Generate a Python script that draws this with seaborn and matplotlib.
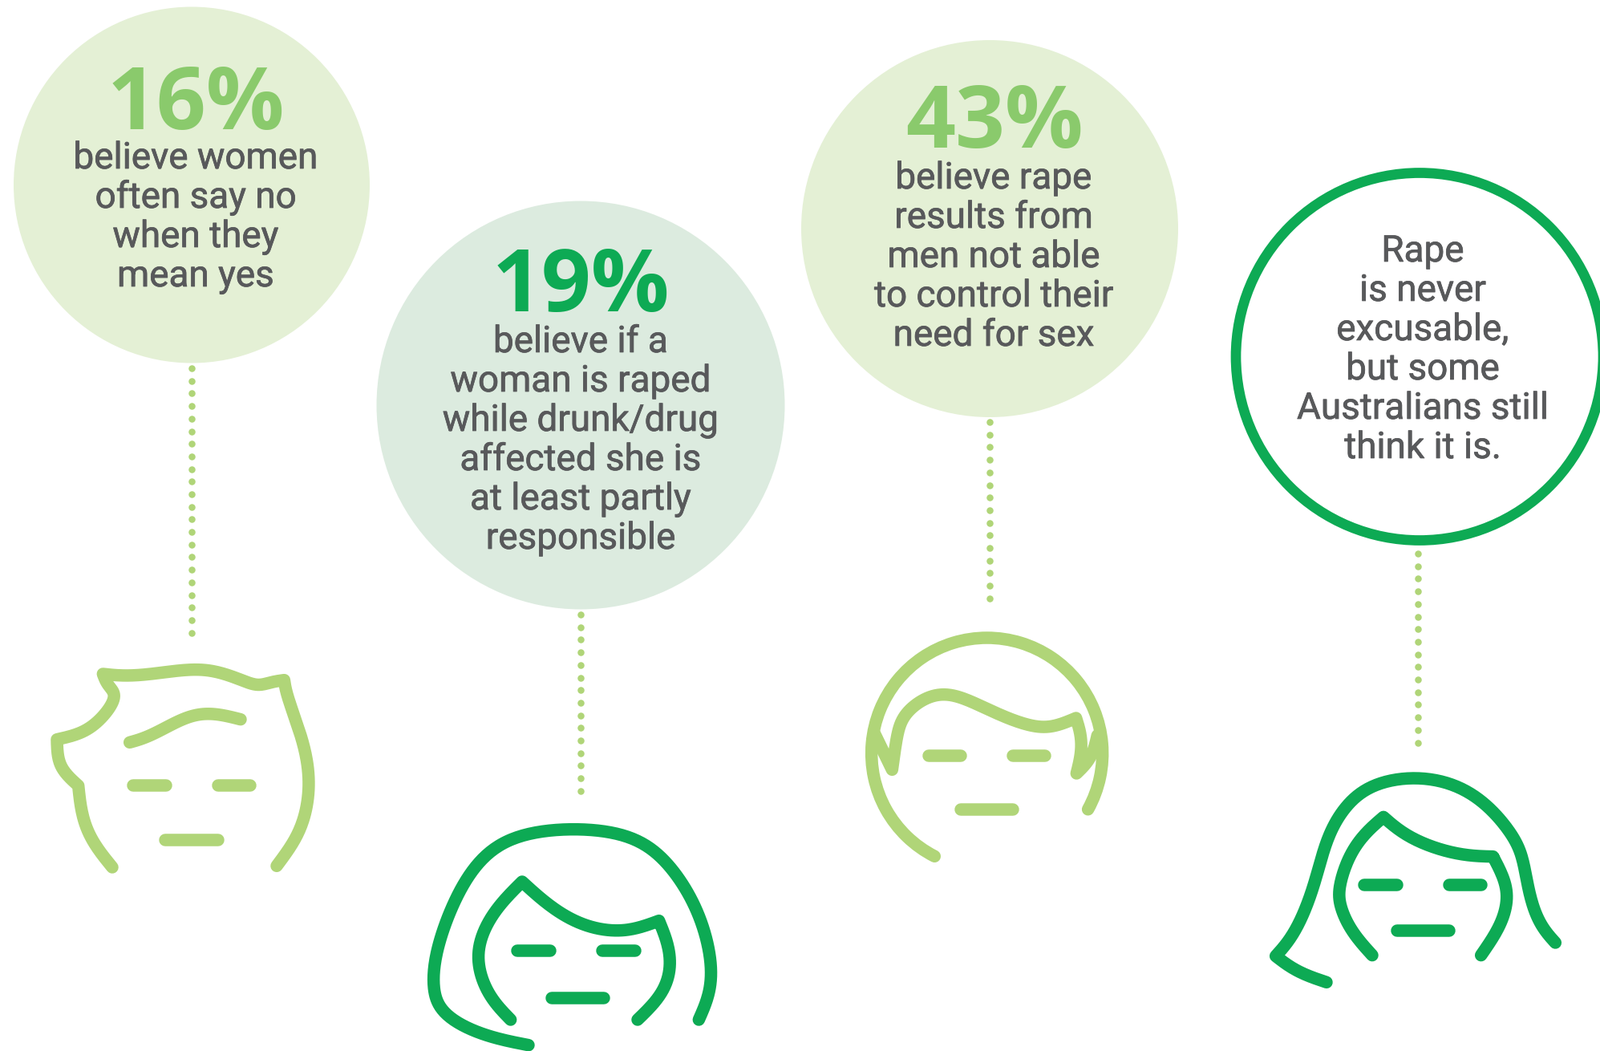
import numpy as np
import matplotlib
matplotlib.use("Agg")
import matplotlib.pyplot as plt
import matplotlib.patheffects as pe
from matplotlib.patches import Circle, Arc
import seaborn as sns

# ---------- content ----------
percents = [16, 19, 43]
percent_labels = [f"{p}%" for p in percents]
statement_1 = ["believe women", "often say no", "when they", "mean yes"]
statement_2 = ["believe if a", "woman is raped", "while drunk/drug", "affected she is", "at least partly", "responsible"]
statement_3 = ["believe rape", "results from", "men not able", "to control their", "need for sex"]
statement_4 = ["Rape", "is never", "excusable,", "but some", "Australians still", "think it is."]

# ---------- style ----------
LIGHT = "#b0d578"
DARK = "#0daa54"
NUM_LIGHT = "#8aca6c"
BODY = "#58595b"
PALE1 = "#e4f0d5"
PALE2 = "#dcebdf"
PX = 72 / 100  # one pixel in points
LW = 15.5 * PX
BODY_FONT = "Roboto"
BIG_FONT = "Open Sans"
BODY_SIZE = 33
BIG_SIZE = 78
LEAD = 49

sns.set_theme(style="white")
fig = plt.figure(figsize=(19.95, 13.10), dpi=100, facecolor="white")
ax = fig.add_axes([0, 0, 1, 1])
ax.set_xlim(0, 1995)
ax.set_ylim(1310, 0)
ax.set_aspect("equal")
ax.axis("off")


def catmull(pts, n=16):
    p = np.array(pts, float)
    if len(p) == 2:
        return p
    q = np.vstack([2 * p[0] - p[1], p, 2 * p[-1] - p[-2]])
    out = []
    for i in range(1, len(q) - 2):
        for t in np.linspace(0, 1, n, endpoint=False):
            out.append(0.5 * ((2 * q[i]) + (q[i + 1] - q[i - 1]) * t
                              + (2 * q[i - 1] - 5 * q[i] + 4 * q[i + 1] - q[i + 2]) * t ** 2
                              + (-q[i - 1] + 3 * q[i] - 3 * q[i + 1] + q[i + 2]) * t ** 3))
    out.append(p[-1])
    out = np.array(out)
    # ease the hand-read wobble while the end points stay put
    k = 17
    for _ in range(3):
        pad = k // 2
        a = 2 * out[0] - out[1:pad + 1][::-1]
        b = 2 * out[-1] - out[-pad - 1:-1][::-1]
        full = np.vstack([a, out, b])
        out = np.column_stack([np.convolve(full[:, c], np.ones(k) / k, mode="valid") for c in (0, 1)])
    return out


def stroke(sections, origin, color):
    """sections are smooth runs joined at sharp corners, measured in 1/3 px from origin."""
    run = np.vstack([catmull(s) for s in sections]) / 3 + np.array(origin)
    sns.lineplot(x=run[:, 0], y=run[:, 1], sort=False, estimator=None, ax=ax, color=color,
                 linewidth=LW, solid_capstyle="round", solid_joinstyle="round", legend=False, zorder=3)


def features(origin, color, eye_y, eye_l, eye_r, mouth_y, mouth):
    for seg in ([(eye_l[0], eye_y), (eye_l[1], eye_y)], [(eye_r[0], eye_y), (eye_r[1], eye_y)],
                [(mouth[0], mouth_y), (mouth[1], mouth_y)]):
        stroke([seg], origin, color)


def dots(x, y0, y1):
    ys = np.arange(y0, y1 + 0.1, 15.7)
    sns.scatterplot(x=np.full(len(ys), x), y=ys, ax=ax, color=LIGHT, s=(8.5 * PX) ** 2,
                    linewidth=0, legend=False, zorder=2)


def block(cx, first_base, lines, big=None, big_base=None, big_color=None, big_cx=None):
    if big:
        ax.text(big_cx if big_cx else cx, big_base, big, ha="center", va="baseline", color=big_color,
                fontsize=BIG_SIZE, fontweight="bold", family=BIG_FONT, zorder=4)
    for i, line in enumerate(lines):
        ax.text(cx, first_base + i * LEAD, line, ha="center", va="baseline", color=BODY,
                fontsize=BODY_SIZE, family=BODY_FONT, zorder=4,
                path_effects=[pe.withStroke(linewidth=0.5, foreground=BODY)])


# ---------- circles ----------
ax.add_patch(Circle((239, 230.5), 222, fc=PALE1, ec="none"))
ax.add_patch(Circle((724, 505), 254.5, fc=PALE2, ec="none"))
ax.add_patch(Circle((1234, 285), 235, fc=PALE1, ec="none"))
ax.add_patch(Circle((1770, 444.5), 229, fc="white", ec=DARK, lw=12.7 * PX))

# ---------- text ----------
block(244, 210, statement_1, percent_labels[0], 161, NUM_LIGHT)
block(724, 439, statement_2, percent_labels[1], 388, DARK)
block(1239, 235, statement_3, percent_labels[2], 184, NUM_LIGHT, big_cx=1240)
block(1774, 326, statement_4)

# ---------- connectors ----------
dots(239, 459, 794)
dots(724, 766, 998)
dots(1234, 526, 757)
dots(1768, 690, 929)

# ---------- face 1 ----------
o = (40, 780)
stroke([[(300, 903), (225, 810), (185, 710), (173, 598)],
        [(173, 598), (115, 545), (95, 490), (93, 425)],
        [(93, 425), (180, 405), (250, 360), (315, 275), (300, 240), (278, 215), (265, 180)],
        [(265, 180), (340, 188), (450, 182), (600, 158), (700, 172), (790, 205), (845, 227), (890, 210), (943, 203)],
        [(943, 203), (950, 250), (985, 350), (1025, 470), (1040, 600), (1020, 720), (980, 810), (915, 898)]], o, LIGHT)
stroke([[(365, 436), (440, 415), (545, 355), (650, 318), (780, 350)]], o, LIGHT)
features(o, LIGHT, 598, (378, 500), (695, 816), 802, (498, 695))

# ---------- face 2 ----------
o = (510, 1000)
stroke([[(447, 908), (280, 875), (130, 800), (95, 720), (90, 640), (110, 520), (180, 340), (270, 205), (400, 118),
         (620, 95), (820, 118), (940, 195), (1030, 310), (1100, 450), (1137, 620), (1120, 730), (1084, 813)]], o, DARK)
stroke([[(380, 813), (300, 730), (258, 620), (260, 520), (320, 400), (423, 297)],
        [(423, 297), (520, 385), (640, 460), (770, 485), (860, 470), (935, 443)],
        [(935, 443), (970, 530), (980, 620), (950, 720), (855, 813)]], o, DARK)
features(o, DARK, 555, (405, 527), (722, 845), 731, (535, 730))

# ---------- face 3 ----------
o = (1060, 770)
ax.add_patch(Arc((1060 + 512 / 3, 770 + 507 / 3), 2 * 432 / 3, 2 * 432 / 3, theta1=117, theta2=389,
                 color=LIGHT, lw=LW, capstyle="round", zorder=3))
stroke([[(90, 430), (157, 568)],
        [(157, 568), (175, 440), (195, 370), (260, 310), (345, 278), (440, 305), (560, 365), (680, 408), (760, 410), (845, 375)],
        [(845, 375), (865, 440), (865, 510), (847, 582)],
        [(847, 582), (905, 525), (925, 440)]], o, LIGHT)
features(o, LIGHT, 517, (293, 413), (610, 730), 717, (415, 610))

# ---------- face 4 ----------
o = (1570, 950)
stroke([[(252, 823), (140, 785), (62, 725)],
        [(62, 725), (120, 660), (170, 560), (205, 460), (230, 370), (265, 255), (330, 155), (425, 78), (600, 50),
         (765, 92), (880, 185), (960, 290), (990, 370), (1010, 500), (1050, 610), (1108, 675)]], o, DARK)
stroke([[(423, 722), (340, 630), (300, 530), (298, 470), (330, 360), (390, 270), (465, 205)],
        [(465, 205), (540, 270), (650, 320), (770, 350), (875, 353)],
        [(875, 353), (925, 450), (928, 530), (900, 620), (830, 722)]], o, DARK)
features(o, DARK, 458, (393, 515), (710, 832), 630, (515, 710))

fig.savefig("out.png", dpi=100, facecolor="white")
